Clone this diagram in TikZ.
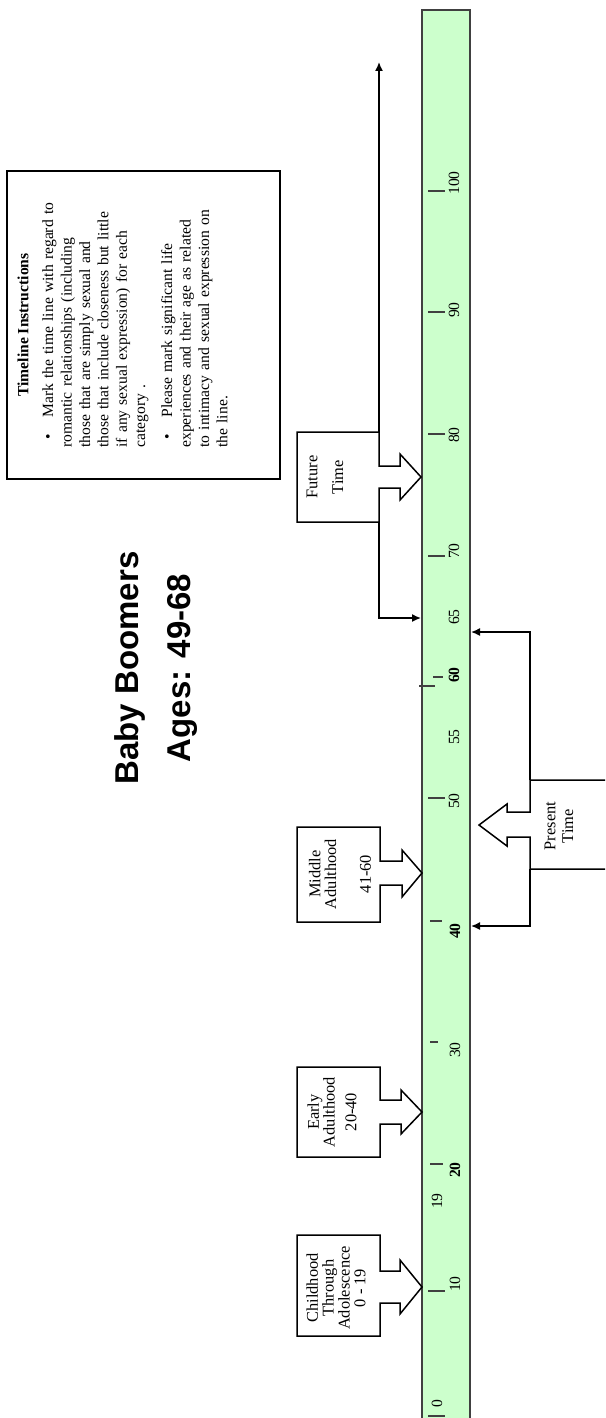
\documentclass[tikz,border=0pt]{standalone}
\usepackage{fontspec}
\setmainfont{Liberation Serif}
\newfontfamily\headfont{Liberation Sans}
\usetikzlibrary{arrows.meta}
\definecolor{barfill}{HTML}{CCFFCC}
\definecolor{barline}{HTML}{404040}

\begin{document}
\begin{tikzpicture}[x=0.5pt,y=-0.5pt,
    callout/.style={draw=black,line width=0.75pt,fill=white},
    boxtext/.style={rotate=90,align=center,inner sep=0pt,font=\fontsize{8.2}{7.9}\selectfont},
    agelabel/.style={rotate=90,inner sep=0pt,font=\fontsize{7.8}{8}\selectfont},
    tick/.style={barline,line width=0.8pt},
    link/.style={line width=0.75pt,-{Latex[length=4.5pt,width=4pt]}}]
  \useasboundingbox (0,0) rectangle (605,1418);
  \clip (0,0) rectangle (605,1418);
  % Title
  \node (title) [rotate=90,align=center,font=\headfont\bfseries\fontsize{16.5}{26}\selectfont] at (156,668) {Baby Boomers\\Ages: 49-68};
  % Instructions box
  \draw[line width=0.75pt] (7,171) rectangle (280,479);
  \node (insthead) [rotate=90,inner sep=0pt,font=\bfseries\fontsize{7.8}{9.2}\selectfont] at (23,325) {Timeline Instructions};
  \node (instbody) [rotate=90,anchor=north west,inner sep=0pt,text width=140pt,align=left,font=\fontsize{7.8}{9.2}\selectfont] at (42,448)
    {\hangindent=15pt\hangafter=1\makebox[15pt][l]{\hspace{4.1pt}\textbullet}Mark the time line with regard to\\ romantic relationships (including\\ those that are simply sexual and\\ those that include closeness but little\\ if any sexual expression) for each\\ category .\par\vspace{4.3pt}
     \hangindent=15pt\hangafter=1\makebox[15pt][l]{\hspace{4.1pt}\textbullet}Please mark significant life\\ experiences and their age as related\\ to intimacy and sexual expression on\\ the line.\par};
  % Time line bar
  \fill[barfill] (422,10) rectangle (470,1440);
  \draw[barline,line width=0.9pt] (422,1440) -- (422,10) -- (470,10) -- (470,1440);
  \draw[tick] (428,191) -- (445,191);
  \draw[tick] (428,312) -- (445,312);
  \draw[tick] (428,434) -- (445,434);
  \draw[tick] (428,556) -- (445,556);
  \draw[tick] (433,677) -- (443,677);
  \draw[tick] (419,686) -- (435,686);
  \draw[tick,line width=1.4pt] (428,798) -- (445,798);
  \draw[tick] (430,921) -- (442,921);
  \draw[tick] (430,1042) -- (438,1042);
  \draw[tick] (430,1164) -- (443,1164);
  \draw[tick] (428,1291) -- (445,1291);
  \draw[tick] (428,1416) -- (445,1416);
  \node (l100) [agelabel] at (454,183) {100};
  \node (l90) [agelabel] at (454,310) {90};
  \node (l80) [agelabel] at (454,435) {80};
  \node (l70) [agelabel] at (454,551) {70};
  \node (l65) [agelabel] at (454,617) {65};
  \node (l60) [agelabel,font=\bfseries\fontsize{7.8}{8}\selectfont] at (454,675) {60};
  \node (l55) [agelabel] at (454,737) {55};
  \node (l50) [agelabel] at (454,801) {50};
  \node (l40) [agelabel,font=\bfseries\fontsize{7.8}{8}\selectfont] at (455,931) {40};
  \node (l30) [agelabel] at (455,1050) {30};
  \node (l20) [agelabel,font=\bfseries\fontsize{7.8}{8}\selectfont] at (455,1170) {20};
  \node (l19) [agelabel] at (437,1201) {19};
  \node (l10) [agelabel] at (455,1284) {10};
  \node (l0) [agelabel] at (437,1404) {0};
  % Life stage callouts
  \draw[callout] (297,1235) -- (380,1235) -- (380,1271) -- (400,1271) -- (400,1260) -- (422,1287) -- (400,1314) -- (400,1303) -- (380,1303) -- (380,1336) -- (297,1336) -- cycle;
  \draw[callout] (297,1067) -- (380,1067) -- (380,1100) -- (401,1100) -- (401,1090) -- (422,1112) -- (401,1134) -- (401,1124) -- (380,1124) -- (380,1157) -- (297,1157) -- cycle;
  \draw[callout] (297,827) -- (380,827) -- (380,861) -- (402,861) -- (402,850) -- (422,873) -- (402,897) -- (402,885) -- (380,885) -- (380,922) -- (297,922) -- cycle;
  \draw[callout] (297,432) -- (379,432) -- (379,466) -- (400,466) -- (400,454) -- (421,477) -- (400,500) -- (400,488) -- (379,488) -- (379,522) -- (297,522) -- cycle;
  \draw[callout] (615,780) -- (530,780) -- (530,812) -- (507,812) -- (507,804) -- (479,825) -- (507,846) -- (507,837) -- (530,837) -- (530,869) -- (615,869) -- cycle;
  \node (childtxt) [boxtext] at (336,1288) {Childhood\\Through\\Adolescence\\0 - 19};
  \node (earlytxt) [boxtext] at (332,1112) {Early\\Adulthood\\[3pt]20-40};
  \node (midtxt) [boxtext] at (340,874) {Middle\\Adulthood\\[9.5pt]41-60};
  \node (futtxt) [boxtext] at (325,477) {Future\\[5pt]Time};
  \node (prestxt) [boxtext] at (559,826) {Present\\[1pt]Time};
  % Connectors to the bar
  \coordinate (futtop) at (379,432);
  \coordinate (futend) at (379,62);
  \coordinate (futbot) at (379,522);
  \coordinate (age65) at (421,618);
  \coordinate (prestop) at (530,780);
  \coordinate (age63) at (471,632);
  \coordinate (presbot) at (530,869);
  \coordinate (age40) at (471,926);
  \draw[link] (futtop) -- (futend);
  \draw[link] (futbot) |- (age65);
  \draw[link] (prestop) |- (age63);
  \draw[link] (presbot) |- (age40);
\end{tikzpicture}
\end{document}
